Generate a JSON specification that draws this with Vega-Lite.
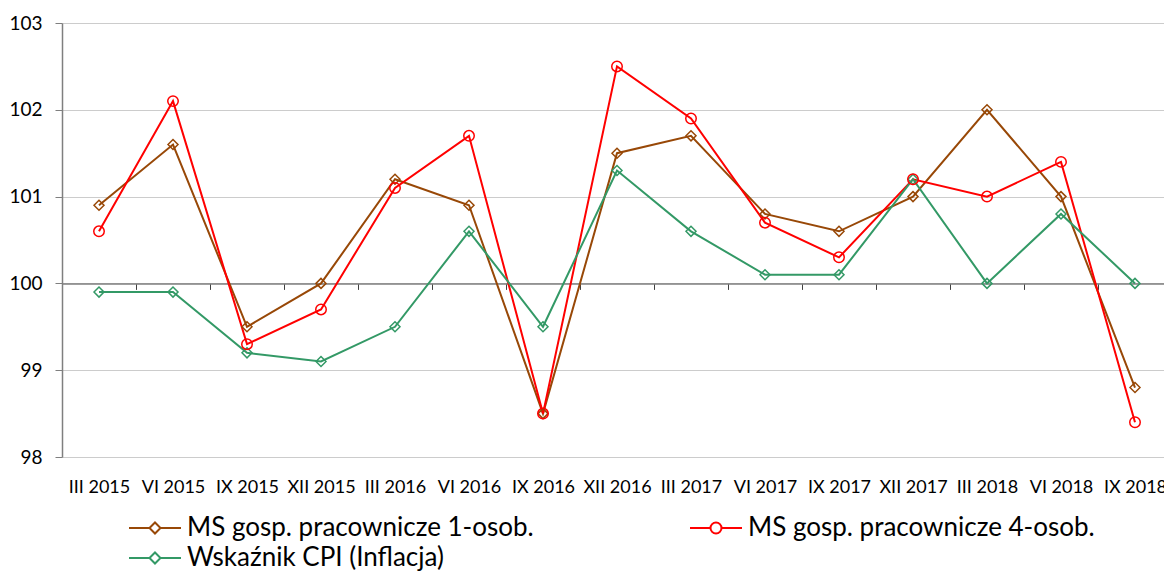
{
  "$schema": "https://vega.github.io/schema/vega-lite/v6.json",
  "width": 1102,
  "height": 434,
  "autosize": {"type": "none"},
  "padding": {"left": 62, "top": 23, "right": 0, "bottom": 114},
  "background": "white",
  "config": {"font": "Lato", "view": {"stroke": null}},
  "data": {"values": [
    {"okres": "III 2015", "seria": "MS gosp. pracownicze 1-osob.", "wartosc": 100.9},
    {"okres": "VI 2015", "seria": "MS gosp. pracownicze 1-osob.", "wartosc": 101.6},
    {"okres": "IX 2015", "seria": "MS gosp. pracownicze 1-osob.", "wartosc": 99.5},
    {"okres": "XII 2015", "seria": "MS gosp. pracownicze 1-osob.", "wartosc": 100.0},
    {"okres": "III 2016", "seria": "MS gosp. pracownicze 1-osob.", "wartosc": 101.2},
    {"okres": "VI 2016", "seria": "MS gosp. pracownicze 1-osob.", "wartosc": 100.9},
    {"okres": "IX 2016", "seria": "MS gosp. pracownicze 1-osob.", "wartosc": 98.5},
    {"okres": "XII 2016", "seria": "MS gosp. pracownicze 1-osob.", "wartosc": 101.5},
    {"okres": "III 2017", "seria": "MS gosp. pracownicze 1-osob.", "wartosc": 101.7},
    {"okres": "VI 2017", "seria": "MS gosp. pracownicze 1-osob.", "wartosc": 100.8},
    {"okres": "IX 2017", "seria": "MS gosp. pracownicze 1-osob.", "wartosc": 100.6},
    {"okres": "XII 2017", "seria": "MS gosp. pracownicze 1-osob.", "wartosc": 101.0},
    {"okres": "III 2018", "seria": "MS gosp. pracownicze 1-osob.", "wartosc": 102.0},
    {"okres": "VI 2018", "seria": "MS gosp. pracownicze 1-osob.", "wartosc": 101.0},
    {"okres": "IX 2018", "seria": "MS gosp. pracownicze 1-osob.", "wartosc": 98.8},
    {"okres": "III 2015", "seria": "MS gosp. pracownicze 4-osob.", "wartosc": 100.6},
    {"okres": "VI 2015", "seria": "MS gosp. pracownicze 4-osob.", "wartosc": 102.1},
    {"okres": "IX 2015", "seria": "MS gosp. pracownicze 4-osob.", "wartosc": 99.3},
    {"okres": "XII 2015", "seria": "MS gosp. pracownicze 4-osob.", "wartosc": 99.7},
    {"okres": "III 2016", "seria": "MS gosp. pracownicze 4-osob.", "wartosc": 101.1},
    {"okres": "VI 2016", "seria": "MS gosp. pracownicze 4-osob.", "wartosc": 101.7},
    {"okres": "IX 2016", "seria": "MS gosp. pracownicze 4-osob.", "wartosc": 98.5},
    {"okres": "XII 2016", "seria": "MS gosp. pracownicze 4-osob.", "wartosc": 102.5},
    {"okres": "III 2017", "seria": "MS gosp. pracownicze 4-osob.", "wartosc": 101.9},
    {"okres": "VI 2017", "seria": "MS gosp. pracownicze 4-osob.", "wartosc": 100.7},
    {"okres": "IX 2017", "seria": "MS gosp. pracownicze 4-osob.", "wartosc": 100.3},
    {"okres": "XII 2017", "seria": "MS gosp. pracownicze 4-osob.", "wartosc": 101.2},
    {"okres": "III 2018", "seria": "MS gosp. pracownicze 4-osob.", "wartosc": 101.0},
    {"okres": "VI 2018", "seria": "MS gosp. pracownicze 4-osob.", "wartosc": 101.4},
    {"okres": "IX 2018", "seria": "MS gosp. pracownicze 4-osob.", "wartosc": 98.4},
    {"okres": "III 2015", "seria": "Wskaźnik CPI (Inflacja)", "wartosc": 99.9},
    {"okres": "VI 2015", "seria": "Wskaźnik CPI (Inflacja)", "wartosc": 99.9},
    {"okres": "IX 2015", "seria": "Wskaźnik CPI (Inflacja)", "wartosc": 99.2},
    {"okres": "XII 2015", "seria": "Wskaźnik CPI (Inflacja)", "wartosc": 99.1},
    {"okres": "III 2016", "seria": "Wskaźnik CPI (Inflacja)", "wartosc": 99.5},
    {"okres": "VI 2016", "seria": "Wskaźnik CPI (Inflacja)", "wartosc": 100.6},
    {"okres": "IX 2016", "seria": "Wskaźnik CPI (Inflacja)", "wartosc": 99.5},
    {"okres": "XII 2016", "seria": "Wskaźnik CPI (Inflacja)", "wartosc": 101.3},
    {"okres": "III 2017", "seria": "Wskaźnik CPI (Inflacja)", "wartosc": 100.6},
    {"okres": "VI 2017", "seria": "Wskaźnik CPI (Inflacja)", "wartosc": 100.1},
    {"okres": "IX 2017", "seria": "Wskaźnik CPI (Inflacja)", "wartosc": 100.1},
    {"okres": "XII 2017", "seria": "Wskaźnik CPI (Inflacja)", "wartosc": 101.2},
    {"okres": "III 2018", "seria": "Wskaźnik CPI (Inflacja)", "wartosc": 100.0},
    {"okres": "VI 2018", "seria": "Wskaźnik CPI (Inflacja)", "wartosc": 100.8},
    {"okres": "IX 2018", "seria": "Wskaźnik CPI (Inflacja)", "wartosc": 100.0}
  ]},
  "encoding": {
    "x": {
      "field": "okres", "type": "ordinal", "sort": null,
      "scale": {"type": "band", "paddingInner": 0, "paddingOuter": 0, "range": [0, 1110]},
      "axis": {
        "title": null, "orient": "bottom", "offset": -173.6, "labelAngle": 0,
        "domainColor": "#7f7f7f", "domainWidth": 1.5, "tickColor": "#404040", "tickWidth": 1,
        "tickSize": 6, "tickBand": "extent", "labelPadding": 189,
        "labelFontSize": 18, "labelColor": "#000000", "grid": false
      }
    },
    "y": {
      "field": "wartosc", "type": "quantitative",
      "scale": {"domain": [98, 103], "zero": false, "nice": false},
      "axis": {
        "title": null, "values": [98, 99, 100, 101, 102, 103], "format": "d",
        "domainColor": "#7f7f7f", "domainWidth": 1.5, "tickColor": "#7f7f7f", "tickSize": 7,
        "labelPadding": 13, "labelFontSize": 19, "labelColor": "#000000",
        "grid": true, "gridColor": "#cccccc", "gridWidth": 1.2
      }
    },
    "color": {
      "field": "seria", "type": "nominal",
      "scale": {
        "domain": ["MS gosp. pracownicze 1-osob.", "MS gosp. pracownicze 4-osob.", "Wskaźnik CPI (Inflacja)"],
        "range": ["#984807", "#ff0000", "#339966"]
      },
      "legend": {
        "title": null, "orient": "none", "legendX": 66, "legendY": 490,
        "direction": "horizontal", "columns": 2, "columnPadding": 152, "rowPadding": 2,
        "labelFontSize": 26, "labelColor": "#000000", "labelLimit": 700, "labelOffset": 29,
        "symbolSize": 784, "symbolStrokeWidth": 2,
        "encode": {
          "symbols": {
            "update": {
              "shape": {"signal": "datum.value === 'MS gosp. pracownicze 4-osob.' ? 'M-1,0H0.464M1.25,0H2.714M0.464,0A0.393,0.393 0 1,0 1.25,0A0.393,0.393 0 1,0 0.464,0Z' : 'M-1,0H0.464M1.25,0H2.714M0.464,0L0.857,-0.393L1.25,0L0.857,0.393Z'"},
              "stroke": {"scale": "color", "field": "value"},
              "strokeWidth": {"value": 2},
              "fill": {"value": "transparent"},
              "opacity": {"value": 1}
            }
          }
        }
      }
    }
  },
  "layer": [
    {"mark": {"type": "line", "strokeWidth": 2}},
    {
      "transform": [{"filter": "datum.seria !== 'MS gosp. pracownicze 4-osob.'"}],
      "mark": {"type": "point", "shape": "diamond", "filled": false, "strokeWidth": 1.5, "opacity": 1, "size": 100}
    },
    {
      "transform": [{"filter": "datum.seria === 'MS gosp. pracownicze 4-osob.'"}],
      "mark": {"type": "point", "shape": "circle", "filled": false, "strokeWidth": 1.5, "opacity": 1, "size": 110}
    }
  ]
}
